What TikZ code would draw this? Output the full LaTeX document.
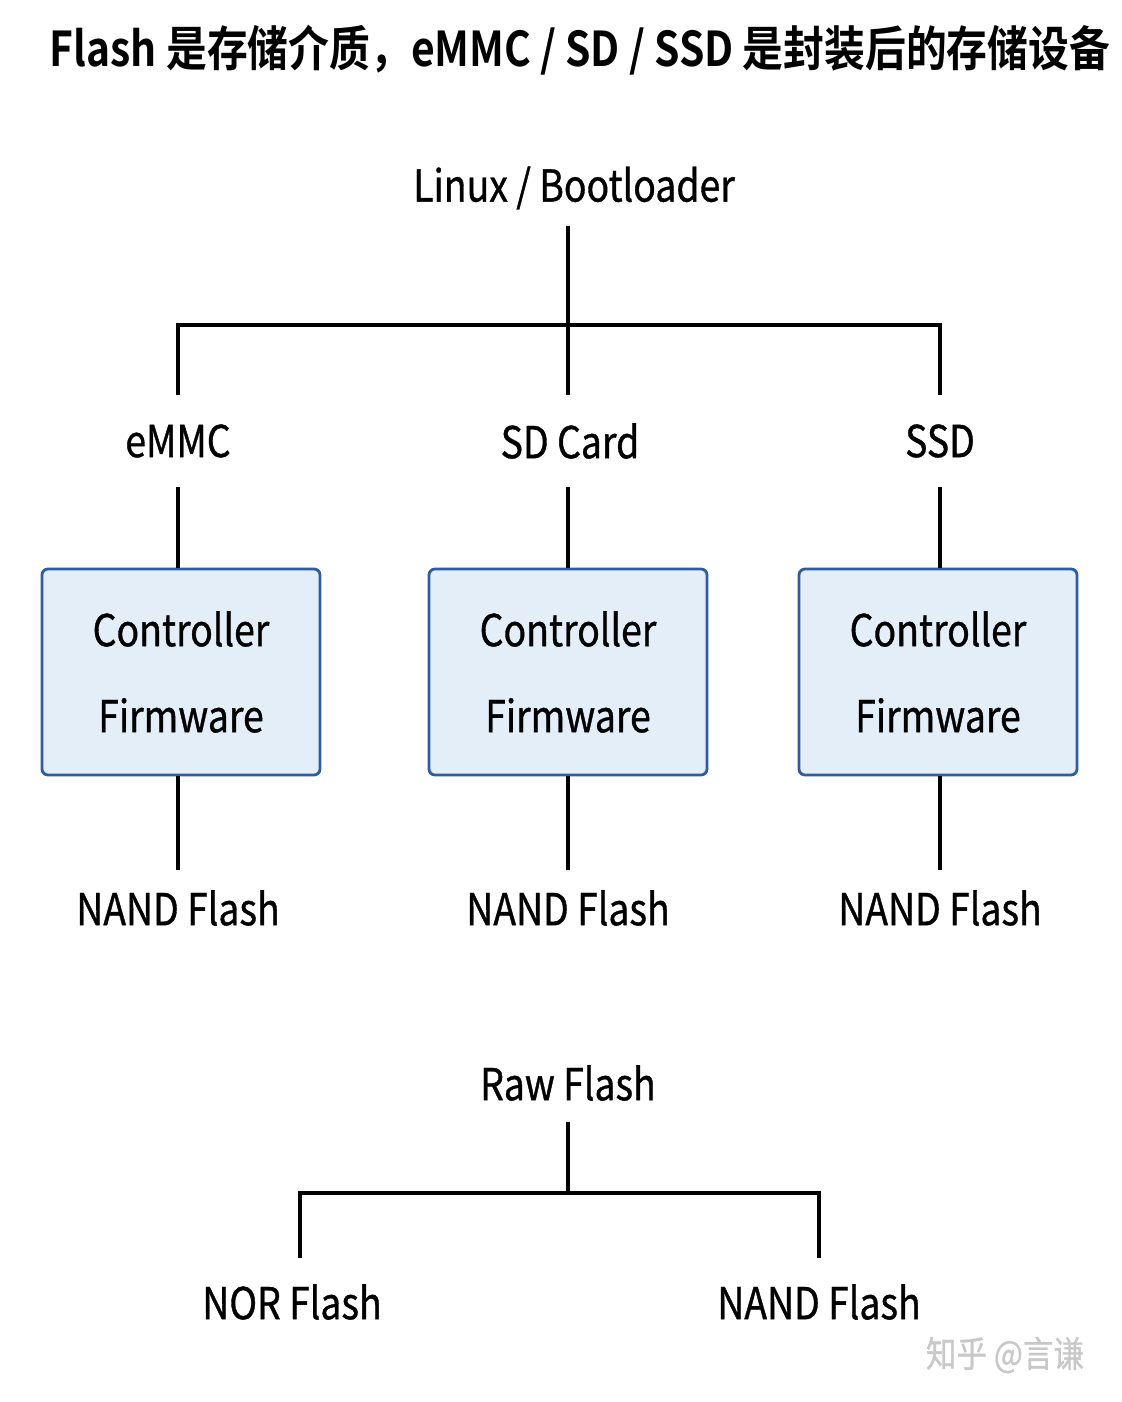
\documentclass[tikz,border=0pt]{standalone}
\usepackage{fontspec}
\setmainfont{Noto Sans CJK SC}[BoldFont={Noto Sans CJK SC Bold}, FakeStretch=0.85,
  UprightFeatures={FakeBold=0.8}]
\usepackage{xcolor}
\usetikzlibrary{positioning}
\definecolor{boxfill}{HTML}{E4EEF9}
\definecolor{boxline}{HTML}{2E5C9E}
\definecolor{markgray}{HTML}{C8C8C8}

\begin{document}
\begin{tikzpicture}[
  x=0.5pt, y=-0.5pt,
  font=\fontsize{22}{26}\selectfont,
  lbl/.style={inner sep=0pt, minimum height=46pt, align=center},
  ctrl/.style={draw=boxline, line width=1.4pt, fill=boxfill, rounded corners=3pt,
               minimum width=139pt, minimum height=103pt, align=center},
  link/.style={line width=2pt, black},
]
\useasboundingbox (0,0) rectangle (1122,1402);
\node[font=\fontsize{24}{28}\selectfont\bfseries] (title) at (580,50)
  {Flash 是存储介质，eMMC / SD / SSD 是封装后的存储设备};
\node[inner sep=0pt, minimum height=38pt] (linux) at (574,188) {Linux / Bootloader};
\coordinate (hub) at (568,325);
% packaged devices
\node[lbl] (emmc) at (178,441) {eMMC};
\node[lbl] (sd)   at (570,441) {SD Card};
\node[lbl] (ssd)  at (940,441) {SSD};
\node[ctrl] (ctl1) at (181,672) {Controller\\[17pt]Firmware};
\node[ctrl] (ctl2) at (568,672) {Controller\\[17pt]Firmware};
\node[ctrl] (ctl3) at (938,672) {Controller\\[17pt]Firmware};
\node[lbl, minimum height=38pt] (nand1) at (178,908) {NAND Flash};
\node[lbl, minimum height=38pt] (nand2) at (568,908) {NAND Flash};
\node[lbl, minimum height=38pt] (nand3) at (940,908) {NAND Flash};
% raw flash
\node[inner sep=0pt, minimum height=39pt] (raw) at (568,1083) {Raw Flash};
\coordinate (hub2) at (568,1193);
\node[lbl, minimum height=44pt] (nor)   at (292,1302) {NOR Flash};
\node[lbl, minimum height=44pt] (nand4) at (819,1302) {NAND Flash};
\node[text=markgray, font=\fontsize{18}{20}\selectfont] (mark) at (1005,1355) {知乎 @言谦};
\draw[link] (linux.south -| hub) -- (hub |- sd.north);
\draw[link] (emmc.north) |- (hub) -| (ssd.north);
\draw[link] (emmc) -- (emmc |- ctl1.north);
\draw[link] (sd.south -| ctl2) -- (ctl2);
\draw[link] (ssd) -- (ssd |- ctl3.north);
\draw[link] (ctl1.south -| nand1) -- (nand1);
\draw[link] (ctl2) -- (nand2);
\draw[link] (ctl3.south -| nand3) -- (nand3);
\draw[link] (raw.south -| hub2) -- (hub2);
\draw[link] (nor.north -| 300,0) |- (hub2) -| (nand4.north);
\end{tikzpicture}
\end{document}
